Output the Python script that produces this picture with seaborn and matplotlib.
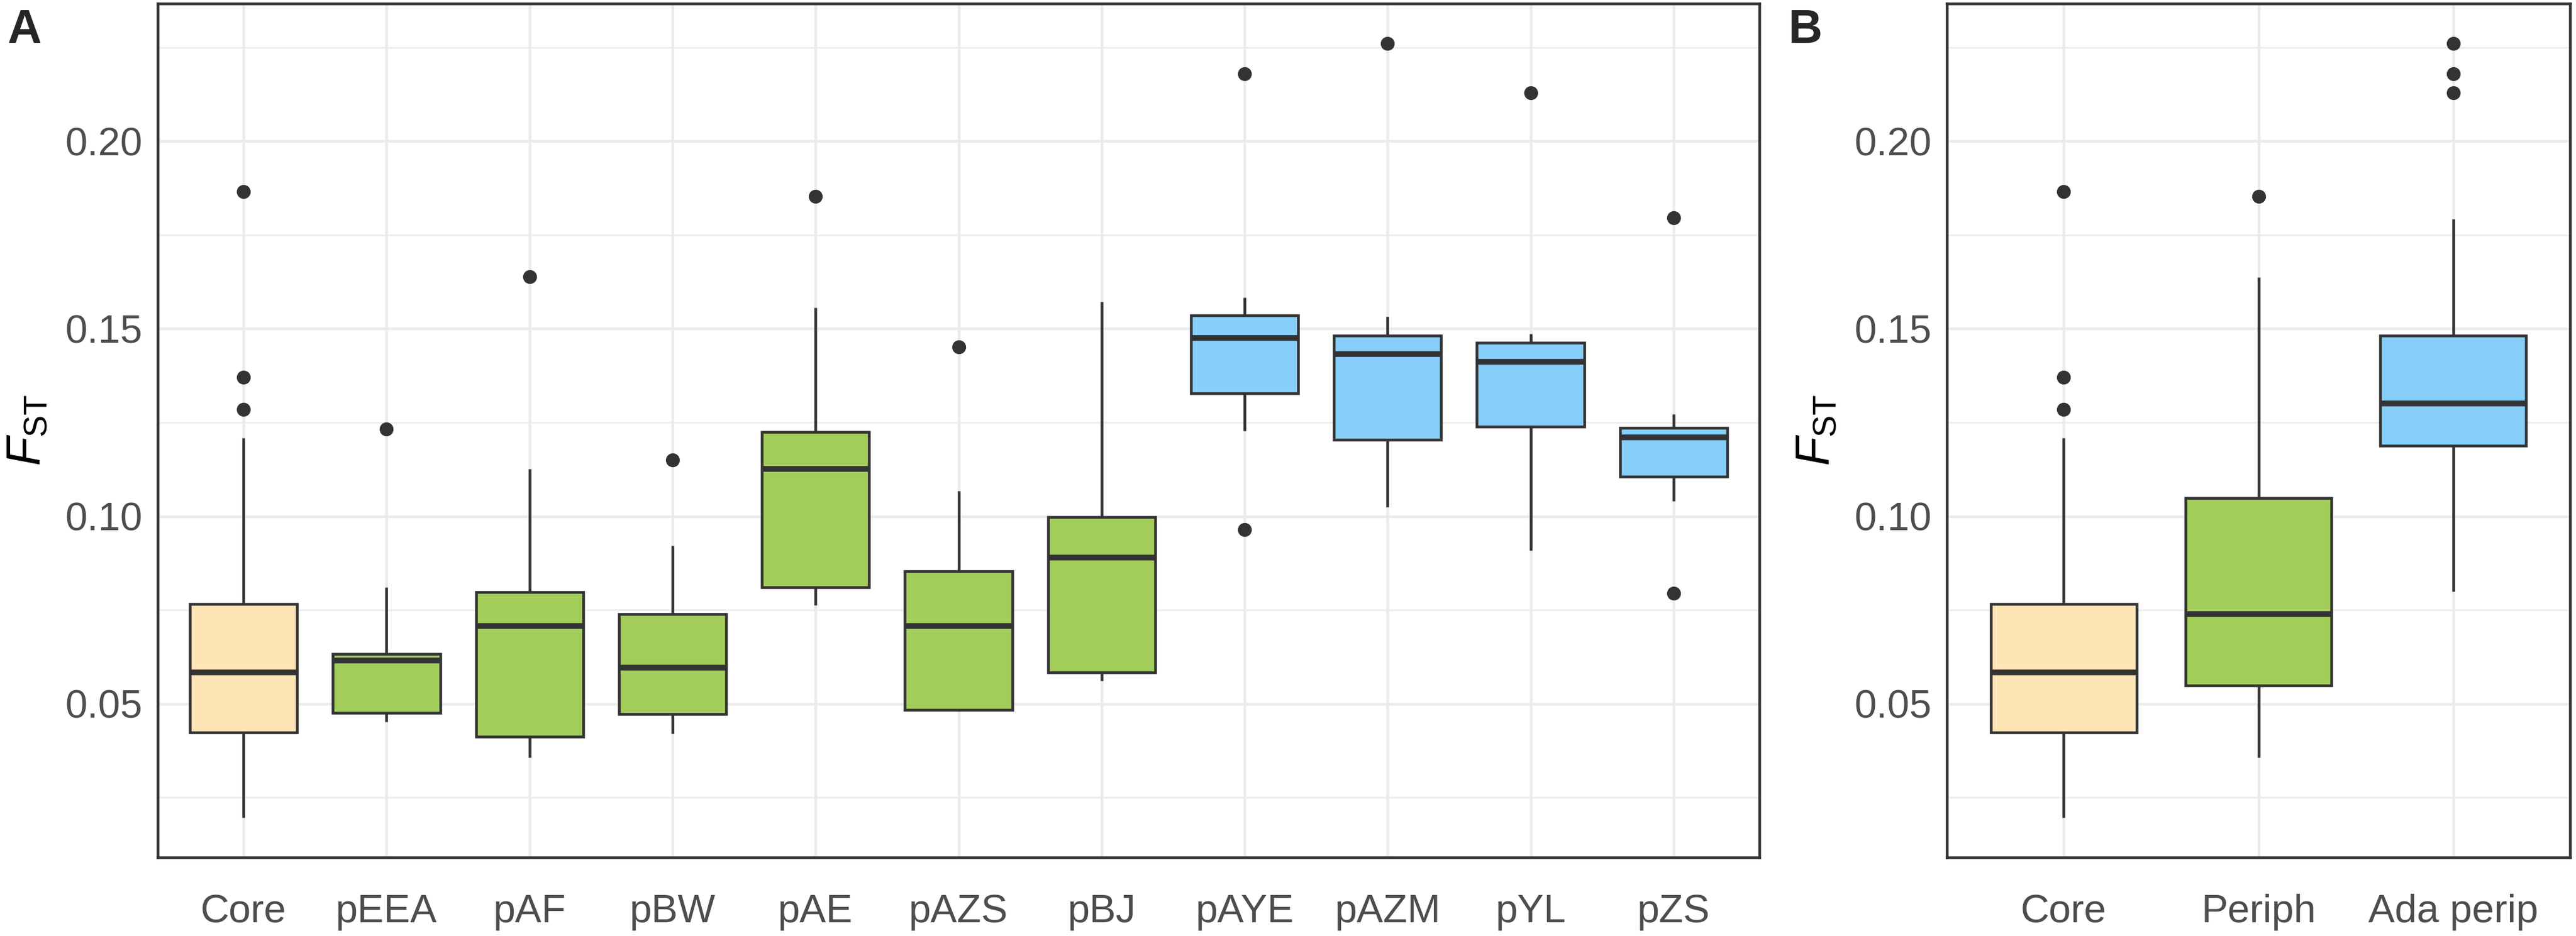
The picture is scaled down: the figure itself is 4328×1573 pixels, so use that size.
import matplotlib
matplotlib.use("Agg")
import matplotlib.pyplot as plt
import numpy as np
import pandas as pd
import seaborn as sns
from matplotlib.ticker import MultipleLocator, FormatStrFormatter

core = [0.0197, 0.0285, 0.0350, 0.0402, 0.0424, 0.0470, 0.0515, 0.0552, 0.0583,
        0.0620, 0.0668, 0.0720, 0.0766, 0.1209, 0.1285, 0.1371, 0.1866]
p_eea = [0.0452, 0.0465, 0.0476, 0.0560, 0.0616, 0.0625, 0.0632, 0.0810, 0.1232]
p_af = [0.0357, 0.0380, 0.0412, 0.0600, 0.0707, 0.0760, 0.0798, 0.1126, 0.1639]
p_bw = [0.0420, 0.0450, 0.0473, 0.0540, 0.0596, 0.0680, 0.0739, 0.0922, 0.1150]
p_ae = [0.0763, 0.0790, 0.0810, 0.1000, 0.1126, 0.1180, 0.1224, 0.1556, 0.1853]
p_azs = [0.0481, 0.0483, 0.0484, 0.0600, 0.0707, 0.0790, 0.0854, 0.1068, 0.1452]
p_bj = [0.0561, 0.0570, 0.0584, 0.0750, 0.0890, 0.0950, 0.0998, 0.1200, 0.1572]
p_aye = [0.0965, 0.1228, 0.1328, 0.1400, 0.1475, 0.1500, 0.1535, 0.1583, 0.2180]
p_azm = [0.1025, 0.1120, 0.1204, 0.1350, 0.1433, 0.1460, 0.1482, 0.1532, 0.2261]
p_yl = [0.0909, 0.1100, 0.1239, 0.1350, 0.1412, 0.1440, 0.1463, 0.1487, 0.2129]
p_zs = [0.0795, 0.1041, 0.1105, 0.1160, 0.1210, 0.1225, 0.1236, 0.1272, 0.1795]

# pooled groups of panel B
periph = [0.0357, 0.0470, 0.0548, 0.0620, 0.0739, 0.0890, 0.1049, 0.1637, 0.1853]
ada_perip = [0.0799, 0.0965, 0.1041, 0.1105, 0.1188, 0.1228, 0.1239, 0.1272, 0.1301,
             0.1412, 0.1433, 0.1463, 0.1482, 0.1793, 0.2129, 0.2180, 0.2261]

groups_a = ["Core", "pEEA", "pAF", "pBW", "pAE", "pAZS", "pBJ", "pAYE", "pAZM", "pYL", "pZS"]
values_a = [core, p_eea, p_af, p_bw, p_ae, p_azs, p_bj, p_aye, p_azm, p_yl, p_zs]
kind_a = ["core", "periph", "periph", "periph", "periph", "periph", "periph",
          "ada", "ada", "ada", "ada"]

groups_b = ["Core", "Periph", "Ada perip"]
values_b = [core, periph, ada_perip]
kind_b = ["core", "periph", "ada"]

kind_colors = {"core": "#FFE4B5", "periph": "#A2CD5A", "ada": "#87CEFA"}


def to_long(names, values):
    rows = []
    for name, vals in zip(names, values):
        for v in vals:
            rows.append({"group": name, "fst": v})
    return pd.DataFrame(rows)


def draw_panel(ax, names, values, kinds):
    df = to_long(names, values)
    palette = {n: kind_colors[k] for n, k in zip(names, kinds)}
    sns.boxplot(data=df, x="group", y="fst", hue="group", order=names, hue_order=names,
                palette=palette, dodge=False, legend=False, width=0.75, linewidth=1.1,
                linecolor="#333333", fliersize=4.6, showcaps=False, saturation=1,
                medianprops=dict(linewidth=2.3, color="#333333"),
                flierprops=dict(marker="o", markerfacecolor="#333333",
                                markeredgecolor="#333333"),
                ax=ax)
    ax.set_xlim(-0.6, len(names) - 0.4)
    ax.set_ylim(0.009, 0.2367)
    ax.yaxis.set_major_locator(MultipleLocator(0.05))
    ax.yaxis.set_minor_locator(MultipleLocator(0.025))
    ax.yaxis.set_major_formatter(FormatStrFormatter("%.2f"))
    ax.set_axisbelow(True)
    ax.grid(True, which="major", axis="both", color="#EBEBEB", linewidth=1.1)
    ax.grid(True, which="minor", axis="y", color="#EBEBEB", linewidth=0.6)
    ax.tick_params(which="minor", length=0)
    ax.tick_params(which="major", length=3.2, width=1.0, color="#333333",
                   labelcolor="#4D4D4D", labelsize=16)
    ax.tick_params(axis="x", pad=11.5)
    ax.tick_params(axis="y", pad=3)
    for s in ax.spines.values():
        s.set_visible(True)
        s.set_color("#333333")
        s.set_linewidth(1.1)
    ax.set_xlabel("")
    ax.set_ylabel(r"$F_{\mathrm{ST}}$", fontsize=19, color="black", labelpad=6)


sns.set_style("white")
plt.rcParams["font.family"] = ["Liberation Sans", "DejaVu Sans"]
plt.rcParams["mathtext.fontset"] = "custom"
plt.rcParams["mathtext.rm"] = "Liberation Sans"
plt.rcParams["mathtext.it"] = "Liberation Sans:italic"

W, H = 4328, 1573
fig = plt.figure(figsize=(W / 300, H / 300), dpi=300)
ax_a = fig.add_axes([265 / W, 1 - 1441 / H, (2956 - 265) / W, (1441 - 6) / H])
ax_b = fig.add_axes([3271 / W, 1 - 1441 / H, (4318 - 3271) / W, (1441 - 6) / H])

draw_panel(ax_a, groups_a, values_a, kind_a)
draw_panel(ax_b, groups_b, values_b, kind_b)

fig.text(12 / W, 1 - 14 / H, "A", fontsize=19, fontweight="bold", va="top", ha="left")
fig.text(3005 / W, 1 - 14 / H, "B", fontsize=19, fontweight="bold", va="top", ha="left")

fig.savefig("out.png", dpi=300)
